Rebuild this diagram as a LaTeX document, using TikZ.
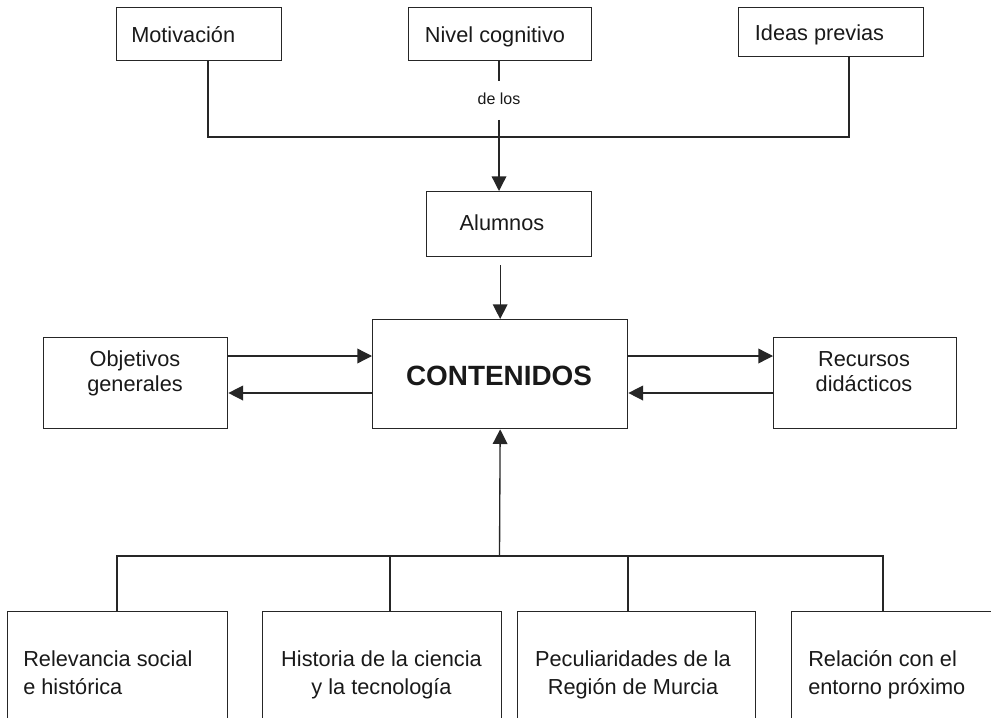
\documentclass[tikz,border=0pt]{standalone}
\usepackage{fontspec}
\setmainfont{Liberation Sans}
\usetikzlibrary{arrows.meta}
\begin{document}
\begin{tikzpicture}[x=0.75pt,y=-0.75pt,
  box/.style n args={2}{draw=black!85, line width=1pt, anchor=north west, inner sep=0pt,
    minimum width=#1*0.75pt, minimum height=#2*0.75pt},
  txt/.style={inner sep=0pt, text=black!90, font=\fontsize{16.3pt}{18.75pt}\selectfont},
  btxt/.style={inner sep=0pt, text=black!90, font=\fontsize{16.3pt}{21pt}\selectfont},
  conn/.style={draw=black!85, line width=1pt},
  arr/.style={conn, -{Triangle[length=11pt,width=11pt]}}
]
\useasboundingbox (0,0) rectangle (991,717);

% top boxes
\node[box={165}{53}] (mot) at (116,7) {};
\node[box={183}{53}] (niv) at (408,7) {};
\node[box={185}{49}] (ide) at (738,7) {};
\node[txt, anchor=west] (mot-t) at (131,38) {\strut Motivación};
\node[txt] (niv-t) at (495,38) {\strut Nivel cognitivo};
\node[txt] (ide-t) at (819.5,36) {\strut Ideas previas};

% label de los
\node[inner sep=0pt, minimum height=38*0.75pt, text=black!90,
      font=\fontsize{12pt}{14.4pt}\selectfont] (delos) at (499,100.5) {\strut de los};

% Alumnos
\node[box={165}{65}] (alu) at (426,191) {};
\node[txt] (alu-t) at (502,225) {\strut Alumnos};

% central
\node[box={255}{109}] (cont) at (372,319) {};
\node[inner sep=0pt, text=black!90, font=\fontsize{20.9pt}{25pt}\selectfont\bfseries] (cont-t) at (499,379.3) {\strut CONTENIDOS};

% side boxes
\node[box={184}{91}] (obj) at (43,337) {};
\node[txt, align=center] (obj-t) at (135,373.5) {\strut Objetivos\\\strut generales};
\node[box={183}{91}] (rec) at (773,337) {};
\node[txt, align=center] (rec-t) at (864,373.5) {\strut Recursos\\\strut didácticos};

% bottom boxes (cut by the lower edge)
\begin{scope}
\clip (0,0) rectangle (991,717);
\node[box={220}{130}] (rel) at (7,611) {};
\node[box={239}{130}] (his) at (262,611) {};
\node[box={238}{130}] (pec) at (517,611) {};
\node[box={230}{130}] (rela) at (791,611) {};
\end{scope}
\node[btxt, anchor=west, align=left] (rel-t) at (23,674.4) {\strut Relevancia social\\\strut e histórica};
\node[btxt, align=center] (his-t) at (381.5,674.4) {\strut Historia de la ciencia\\\strut y la tecnología};
\node[btxt, align=center] (pec-t) at (633,674.4) {\strut Peculiaridades de la\\\strut Región de Murcia};
\node[btxt, anchor=west, align=left] (rela-t) at (808,674.4) {\strut Relación con el\\\strut entorno próximo};

% helper coordinates
\coordinate (cL) at (208,137);
\coordinate (cR) at (849,137);
\coordinate (yA) at (0,356);
\coordinate (yB) at (0,393);
\coordinate (bL) at (117,556);
\coordinate (b2) at (390,556);
\coordinate (bM) at (499.5,556);
\coordinate (b3) at (628,556);
\coordinate (bR) at (883,556);

% top connectors
\draw[conn] (mot.south -| cL) -- (cL) -- (cR) -- (ide.south -| cR);
\draw[conn] (niv.south -| delos.north) -- (delos.north);
\draw[arr] (delos.south) -- (alu.north -| delos.south);
\draw[arr] ([yshift=-6pt]alu.south -| cont.north) -- (cont.north);

% side arrows
\draw[arr] (obj.east |- yA) -- (cont.west |- yA);
\draw[arr] (cont.west |- yB) -- (obj.east |- yB);
\draw[arr] (cont.east |- yA) -- (rec.west |- yA);
\draw[arr] (rec.west |- yB) -- (cont.east |- yB);

% bottom tree
\draw[conn] (rel.north -| bL) -- (bL) -- (bR) -- (rela.north -| bR);
\draw[conn] (b2) -- (his.north -| b2);
\draw[conn] (b3) -- (pec.north -| b3);
\draw[arr] (bM) -- (cont.south);
\end{tikzpicture}
\end{document}
